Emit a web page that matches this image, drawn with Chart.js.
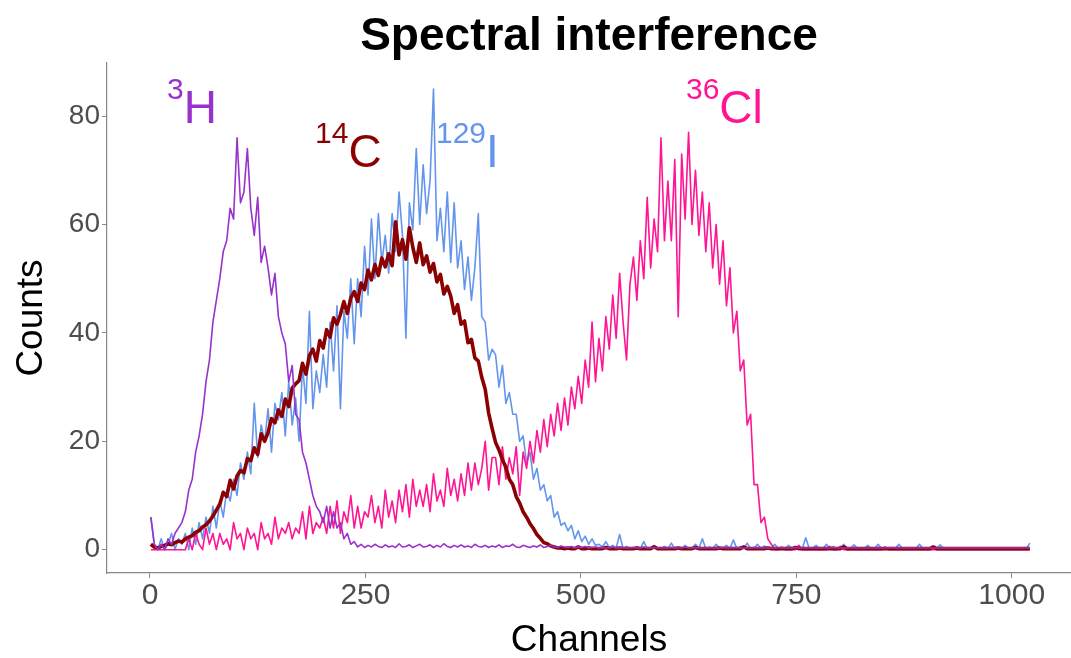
<!DOCTYPE html>
<html>
<head>
<meta charset="utf-8">
<title>Spectral interference</title>
<script src="https://cdn.jsdelivr.net/npm/chart.js@4.4.1/dist/chart.umd.min.js"></script>
<style>
  html, body { margin: 0; padding: 0; background: #fff; }
  #wrap { width: 1071px; height: 658px; }
</style>
</head>
<body>
<div id="wrap"><canvas id="spectra" width="1071" height="658"></canvas></div>
<script>
// ===== DATA (counts, one value every 4 channels) =====
const channelStart = 1;
const channelStep = 4;

const countsH3 = [
  6, 1, 0, 1, 0, 2, 1, 3, 4, 5,
  7, 11, 13, 18, 21, 25, 31, 35, 42, 46,
  50, 55, 57, 63, 61, 76, 64, 66, 74, 63,
  58, 65, 53, 56, 52, 47, 51, 43, 40, 38,
  31, 34, 25, 24, 18, 16, 13, 10, 8, 7,
  5, 8, 4, 7, 4, 5, 2, 3, 1, 1.5,
  0.5, 1, 0.4, 0.8, 0.5, 1, 0.6, 0.4, 0.9, 0.5,
  0.7, 0.4, 1.1, 0.5, 0.6, 0.9, 0.4, 0.7, 1, 0.5,
  0.6, 0.9, 0.4, 0.8, 0.5, 1.1, 0.6, 0.4, 0.8, 0.5,
  0.9, 0.5, 0.7, 0.4, 1, 0.6, 0.5, 0.8, 0.4, 0.7,
  0.5, 0.9, 0.4, 0.7, 0.6, 1, 0.5, 0.4, 0.8, 0.6,
  0.4, 0.7, 0.5, 0.9, 0.4, 0.6, 0.8, 0.5, 0.4, 0.7,
  0.5, 0.4, 0.6, 0.3, 0.5, 0.4, 0.6, 0.3, 0.4, 0.5,
  0.3, 0.4, 0.3, 0.3, 0.5, 0.3, 0.3, 0.4, 0.3, 0.3,
  0.4, 0.3, 0.3, 0.5, 0.3, 0.3, 0.4, 0.3, 0.3, 0.3,
  0.3, 0.4, 0.3, 0.3, 0.3, 0.5, 0.3, 0.3, 0.4, 0.3,
  0.3, 0.3, 0.4, 0.3, 0.3, 0.3, 0.4, 0.3, 0.3, 0.3,
  0.4, 0.3, 0.3, 0.3, 0.3, 0.4, 0.3, 0.3, 0.3, 0.3,
  0.3, 0.3, 0.4, 0.3, 0.3, 0.3, 0.3, 0.4, 0.3, 0.3,
  0.3, 0.4, 0.3, 0.3, 0.3, 0.3, 0.3, 0.3, 0.4, 0.3,
  0.3, 0.3, 0.3, 0.4, 0.3, 0.3, 0.3, 0.3, 0.3, 0.3,
  0.3, 0.3, 0.3, 0.3, 0.3, 0.4, 0.3, 0.3, 0.3, 0.3,
  0.3, 0.3, 0.3, 0.3, 0.3, 0.3, 0.3, 0.3, 0.3, 0.3,
  0.3, 0.3, 0.3, 0.3, 0.3, 0.3, 0.3, 0.3, 0.3, 0.3,
  0.3, 0.3, 0.3, 0.3, 0.3, 0.3, 0.3, 0.3, 0.3, 0.3,
  0.3, 0.3, 0.3, 0.3, 0.3, 0.3
];

const countsC14 = [
  1, 0.5, 0.3, 0.6, 0.8, 1.1, 0.9, 1.3, 1.6, 1.4,
  2, 2.3, 2.6, 3.2, 3.5, 4.2, 4.6, 5.3, 6.2, 7.3,
  8.4, 10.6, 9.8, 12.8, 11.2, 13.6, 14.6, 14.2, 16.8, 16.4,
  18.8, 17.6, 21.4, 20, 21.6, 24.2, 23.4, 25.8, 24.6, 27.8,
  26.4, 29.8, 30.6, 31.2, 34.4, 32.4, 35.8, 37, 34.8, 38.6,
  37.2, 40.6, 39.2, 42.8, 41.6, 43.4, 45.8, 43.6, 46.4, 47.6,
  45.8, 49.2, 48, 51.6, 49.8, 52.6, 50.6, 53.8, 52.2, 54.6,
  52.4, 60.5, 54.4, 57.2, 53.6, 59.4, 55.8, 53, 56.6, 52.6,
  54.2, 51.2, 52.8, 49.4, 50.8, 47.2, 48.6, 46.8, 43.6, 45.2,
  41.6, 42.2, 38.2, 38.8, 35.4, 34.8, 31.8, 29.6, 25.2, 22.4,
  19.8, 18.4, 16.6, 15.2, 13, 12, 9.8, 8.6, 7, 6,
  4.8, 3.9, 2.8, 2.1, 1.3, 1.1, 0.7, 0.5, 0.3, 0.3,
  0.2, 0.3, 0.2, 0.2, 0.5, 0.2, 0.2, 0.3, 0.2, 0.2,
  0.2, 0.2, 0.4, 0.2, 0.2, 0.2, 0.3, 0.2, 0.2, 0.2,
  0.2, 0.3, 0.2, 0.2, 0.2, 0.2, 0.5, 0.2, 0.2, 0.2,
  0.2, 0.2, 0.2, 0.3, 0.2, 0.2, 0.2, 0.2, 0.4, 0.2,
  0.2, 0.2, 0.2, 0.2, 0.2, 0.3, 0.2, 0.2, 0.2, 0.2,
  0.2, 0.2, 0.5, 0.2, 0.2, 0.2, 0.2, 0.2, 0.2, 0.3,
  0.2, 0.2, 0.2, 0.2, 0.2, 0.2, 0.2, 0.4, 0.2, 0.2,
  0.2, 0.2, 0.2, 0.2, 0.2, 0.2, 0.2, 0.2, 0.2, 0.2,
  0.2, 0.5, 0.2, 0.2, 0.2, 0.2, 0.2, 0.2, 0.2, 0.2,
  0.2, 0.2, 0.2, 0.2, 0.2, 0.2, 0.2, 0.2, 0.2, 0.2,
  0.2, 0.2, 0.2, 0.2, 0.2, 0.2, 0.2, 0.5, 0.2, 0.2,
  0.2, 0.2, 0.2, 0.2, 0.2, 0.2, 0.2, 0.2, 0.2, 0.2,
  0.2, 0.2, 0.2, 0.2, 0.2, 0.2, 0.2, 0.2, 0.2, 0.2,
  0.2, 0.2, 0.2, 0.2, 0.2, 0.2
];

const countsI129 = [
  6, 1, 0, 2, 0, 1, 3, 0, 2, 1,
  3, 0, 4, 1, 5, 2, 6, 3, 8, 4,
  9, 6, 11, 9, 13, 10, 16, 13, 18, 14,
  27, 17, 23, 20, 26, 18, 27, 24, 29, 21,
  31, 23, 28, 20, 34, 27, 44, 26, 33, 29,
  36, 30, 42, 33, 45, 26, 44, 39, 50, 38,
  50, 43, 56, 47, 61, 50, 62, 53, 58, 51,
  62, 55, 66, 58, 39, 64, 59, 74, 60, 71,
  62, 68, 85, 57, 63, 55, 66, 53, 64, 52,
  57, 48, 54, 46, 52, 62, 43, 42, 35, 37,
  36, 30, 34, 27, 29, 25, 25, 20, 21, 16,
  18, 13, 15, 11, 12, 9, 10, 6, 7, 4.5,
  5, 3.5, 4.5, 2, 3.5, 1.5, 2.5, 1, 2, 0.8,
  1, 0.5, 1.5, 0.4, 0.8, 0.3, 2.8, 0.2, 0.6, 0.2,
  0.2, 0.5, 0.2, 1.5, 0.2, 0.3, 0.8, 0.2, 0.2, 0.6,
  0.2, 1.2, 0.2, 0.3, 0.2, 0.8, 0.2, 0.2, 1, 0.2,
  2, 0.2, 0.5, 0.2, 1, 0.2, 0.3, 0.8, 0.2, 1.8,
  0.2, 0.6, 0.2, 1.2, 0.2, 0.3, 1, 0.2, 0.7, 0.2,
  0.2, 1, 0.2, 0.3, 0.2, 0.8, 0.2, 0.2, 0.5, 0.2,
  2.2, 0.2, 0.3, 0.8, 0.2, 0.2, 1, 0.2, 0.6, 0.2,
  0.2, 1, 0.2, 0.2, 0.9, 0.2, 0.2, 0.2, 0.8, 0.2,
  0.2, 1, 0.2, 0.2, 0.2, 0.2, 0.2, 1, 0.2, 0.2,
  0.2, 0.2, 0.2, 1, 0.2, 0.2, 0.2, 0.2, 0.2, 0.9,
  0.2, 0.2, 0.2, 0.2, 0.2, 0.2, 0.2, 0.2, 0.2, 0.2,
  0.2, 0.2, 0.2, 0.2, 0.2, 0.2, 0.2, 0.2, 0.2, 0.2,
  0.2, 0.2, 0.2, 0.2, 0.2, 1.2
];

const countsCl36 = [
  0, 0, 0, 0, 0, 0, 0, 0, 0, 0,
  0, 2, 0, 3, 1, 0, 4, 1, 3, 0,
  3, 1, 2, 0, 5, 2, 3, 0, 4, 2,
  3, 0, 5, 2, 3, 1, 6, 2, 4, 3,
  5, 2, 4, 3, 7, 2, 8, 3, 5, 4,
  6, 3, 8, 4, 9, 3, 7, 5, 10, 4,
  8, 4, 7, 6, 10, 5, 8, 4, 11, 6,
  9, 5, 11, 7, 12, 6, 13, 8, 11, 8,
  12, 7, 14, 9, 11, 8, 15, 10, 13, 9,
  14, 10, 16, 11, 16, 12, 15, 20, 11, 17,
  17, 12, 19, 13, 17, 14, 19, 10, 18, 15,
  20, 16, 22, 18, 24, 19, 25, 21, 27, 22,
  28, 23, 30, 26, 32, 27, 35, 30, 42, 31,
  39, 33, 43, 37, 47, 39, 51, 42, 35, 49,
  54, 46, 57, 50, 65, 52, 61, 55, 76, 57,
  68, 57, 72, 43, 73, 61, 77, 60, 70, 58,
  66, 55, 64, 52, 60, 49, 57, 45, 52, 40,
  44, 33, 35, 23, 25, 12, 12, 5, 6, 2,
  1, 0, 0, 0.5, 0, 0, 0, 0, 0.8, 0,
  0, 0, 0, 0, 0, 0, 0, 0.6, 0, 0,
  0.6, 0, 0, 0, 0, 0, 0, 0, 0, 0,
  0, 0, 0, 0.5, 0, 0, 0, 0, 0, 0,
  0, 0, 0, 0, 0, 0, 0, 0, 0, 0,
  0, 0, 0, 0, 0, 0, 0, 0, 0, 0,
  0, 0, 0, 0, 0, 0, 0, 0, 0, 0,
  0, 0, 0, 0, 0, 0
];

const xTicks = [0, 250, 500, 750, 1000];
const yTicks = [0, 20, 40, 60, 80];

// isotope labels: mass number, symbol, channel / count of the label start
const isoMass = ['3', '14', '129', '36'];
const isoSymbol = ['H', 'C', 'I', 'Cl'];
const isoLabelX = [19.7, 191.5, 331.9, 622];
const isoLabelY = [78.7, 70.6, 70.6, 78.7];
const isoColors = ['#9932CC', '#8B0000', '#6495ED', '#FF1493'];

const titleText = 'Spectral interference';
const xTitle = 'Channels';
const yTitle = 'Counts';

// ===== HELPERS =====
const FONT = '"Liberation Sans", Arial, Helvetica, sans-serif';

function toPoints(counts) {
  return counts.map((y, i) => ({ x: channelStart + channelStep * i, y: y }));
}

// titles and isotope labels, placed over the panel
const textLayer = {
  id: 'textLayer',
  afterDraw(chart) {
    const { ctx, chartArea, scales } = chart;
    const midX = (chartArea.left + chartArea.right) / 2;
    ctx.save();
    ctx.textBaseline = 'alphabetic';

    ctx.fillStyle = '#000';
    ctx.textAlign = 'center';
    ctx.font = 'bold 46px ' + FONT;
    ctx.fillText(titleText, midX, 50);

    ctx.font = '37px ' + FONT;
    ctx.fillText(xTitle, midX, 651);

    ctx.save();
    ctx.translate(42, (chartArea.top + chartArea.bottom) / 2);
    ctx.rotate(-Math.PI / 2);
    ctx.fillText(yTitle, 0, 0);
    ctx.restore();

    ctx.textAlign = 'left';
    for (let i = 0; i < isoMass.length; i++) {
      const x = scales.x.getPixelForValue(isoLabelX[i]);
      const y = scales.y.getPixelForValue(isoLabelY[i]);
      ctx.fillStyle = isoColors[i];
      ctx.font = '30px ' + FONT;
      ctx.fillText(isoMass[i], x, y - 24);
      const w = ctx.measureText(isoMass[i]).width;
      ctx.font = '46px ' + FONT;
      ctx.fillText(isoSymbol[i], x + w, y);
    }
    ctx.restore();
  }
};

function series(label, counts, color, width, order) {
  return {
    label: label,
    data: toPoints(counts),
    borderColor: color,
    backgroundColor: color,
    borderWidth: width,
    borderJoinStyle: 'round',
    pointRadius: 0,
    tension: 0,
    fill: false,
    order: order
  };
}

// ===== CHART =====
new Chart(document.getElementById('spectra'), {
  type: 'line',
  data: {
    datasets: [
      series('3H', countsH3, isoColors[0], 1.6, 1),
      series('14C', countsC14, isoColors[1], 3.6, 2),
      series('36Cl', countsCl36, isoColors[3], 1.6, 3),
      series('129I', countsI129, isoColors[2], 1.6, 4)
    ]
  },
  options: {
    responsive: false,
    animation: false,
    parsing: false,
    layout: { padding: { top: 63, right: 0, bottom: 0, left: 0 } },
    plugins: {
      legend: { display: false },
      tooltip: { enabled: false },
      title: { display: false }
    },
    scales: {
      x: {
        type: 'linear',
        min: -49.9,
        max: 1068.8,
        afterBuildTicks: (scale) => { scale.ticks = xTicks.map(v => ({ value: v })); },
        afterFit: (scale) => { scale.height = 85; },
        border: { display: true, color: '#888', width: 1.2 },
        grid: { drawOnChartArea: false, drawTicks: true, tickLength: 5, tickColor: '#888' },
        ticks: {
          color: '#4D4D4D', font: { family: FONT, size: 30 }, padding: 0, maxRotation: 0,
          callback: (v) => String(v)
        }
      },
      y: {
        type: 'linear',
        min: -4.3,
        max: 89.8,
        afterBuildTicks: (scale) => { scale.ticks = yTicks.map(v => ({ value: v })); },
        afterFit: (scale) => { scale.width = 107; },
        border: { display: true, color: '#888', width: 1.2 },
        grid: { drawOnChartArea: false, drawTicks: true, tickLength: 5, tickColor: '#888' },
        ticks: {
          color: '#4D4D4D', font: { family: FONT, size: 28 }, padding: 2,
          callback: (v) => String(v)
        }
      }
    }
  },
  plugins: [textLayer]
});
</script>
</body>
</html>
